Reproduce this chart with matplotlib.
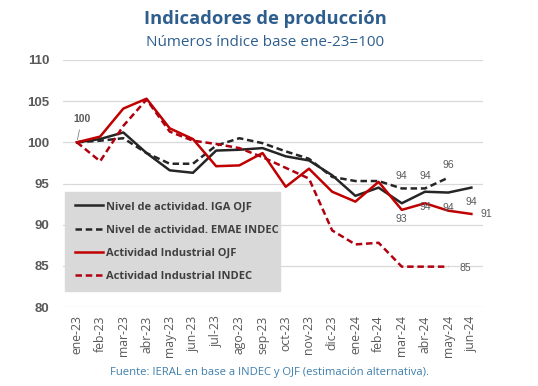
import matplotlib
matplotlib.use("Agg")
import matplotlib.pyplot as plt

months = ['ene-23', 'feb-23', 'mar-23', 'abr-23', 'may-23', 'jun-23', 'jul-23', 'ago-23',
          'sep-23', 'oct-23', 'nov-23', 'dic-23', 'ene-24', 'feb-24', 'mar-24', 'abr-24',
          'may-24', 'jun-24']
iga_ojf = [100, 100.4, 101.2, 98.7, 96.6, 96.3, 99.0, 99.1, 99.3, 98.3, 97.8, 96.0,
           93.5, 94.5, 92.6, 94.0, 93.9, 94.5]
emae_indec = [100, 100.2, 100.5, 98.7, 97.4, 97.4, 99.6, 100.5, 99.9, 98.9, 98.0, 95.8,
              95.3, 95.3, 94.4, 94.4, 95.7]
ind_ojf = [100, 100.7, 104.1, 105.3, 101.7, 100.4, 97.1, 97.2, 98.7, 94.6, 96.8, 94.0,
           92.8, 95.2, 91.8, 92.6, 91.7, 91.3]
ind_indec = [100, 97.7, 102.0, 105.2, 101.3, 100.2, 99.8, 99.3, 98.2, 96.9, 95.6, 89.3,
             87.6, 87.8, 84.9, 84.9, 84.9]
y_ticks = [80, 85, 90, 95, 100, 105, 110]
series_names = ['Nivel de actividad. IGA OJF', 'Nivel de actividad. EMAE INDEC',
                'Actividad Industrial OJF', 'Actividad Industrial INDEC']

W, H = 538, 386
fig = plt.figure(figsize=(W / 100, H / 100), dpi=100)
ax = fig.add_axes([63 / W, 1 - 307 / H, 420 / W, 247 / H])

x = list(range(len(months)))
dash = (0, (2.6, 1.5))
black = '#262626'
red = '#C00000'
ax.plot(x, iga_ojf, color=black, lw=1.8, label=series_names[0], zorder=3)
ax.plot(x[:len(emae_indec)], emae_indec, color=black, lw=1.8, ls=dash, label=series_names[1], zorder=3)
ax.plot(x, ind_ojf, color=red, lw=1.8, label=series_names[2], zorder=3)
ax.plot(x[:len(ind_indec)], ind_indec, color='#B00010', lw=1.8, ls=dash, label=series_names[3], zorder=3)

ax.set_xlim(-0.6, 17.5)
ax.set_ylim(80, 110)
ax.set_yticks(y_ticks)
ax.yaxis.grid(True, color='#D9D9D9', lw=0.9)
ax.set_axisbelow(True)
for s in ax.spines.values():
    s.set_visible(False)
ax.tick_params(axis='both', length=0)
ax.set_xticks(x)
ax.set_xticklabels(months, rotation=90, fontsize=8.8, color='#595959', family='Open Sans')
for lab in ax.get_yticklabels():
    lab.set_fontweight('bold')
    lab.set_fontsize(9.5)
    lab.set_color('#595959')
    lab.set_family('Liberation Sans')
ax.tick_params(axis='y', pad=10)
ax.tick_params(axis='x', pad=6)

lbl = dict(fontsize=7.5, color='#595959', family='Liberation Sans', ha='center', va='center')
ax.annotate('100', xy=(0, 100), xytext=(0.2, 102.8),
            arrowprops=dict(arrowstyle='-', color='#808080', lw=0.6), fontweight='bold', **lbl)
for i in (14, 15, 16):
    ax.annotate(f'{emae_indec[i]:.0f}', xy=(i, emae_indec[i]), xytext=(0, 9), textcoords='offset points', **lbl)
ax.annotate(f'{iga_ojf[14]:.0f}', xy=(14, iga_ojf[14]), xytext=(0, -11), textcoords='offset points', **lbl)
ax.annotate(f'{iga_ojf[15]:.0f}', xy=(15, iga_ojf[15]), xytext=(0, -11), textcoords='offset points', **lbl)
ax.annotate(f'{iga_ojf[16]:.0f}', xy=(16, iga_ojf[16]), xytext=(0, -11), textcoords='offset points', **lbl)
ax.annotate(f'{iga_ojf[17]:.0f}', xy=(17, iga_ojf[17]), xytext=(0, -10), textcoords='offset points', **lbl)
ax.annotate(f'{ind_ojf[17]:.0f}', xy=(17, ind_ojf[17]), xytext=(11, 0), textcoords='offset points', **lbl)
ax.annotate(f'{ind_indec[16]:.0f}', xy=(16, ind_indec[16]), xytext=(12, -1), textcoords='offset points', **lbl)

leg = ax.legend(loc='upper left', bbox_to_anchor=(0.005, 0.466, 0.512, 0.0), mode='expand',
                frameon=True, fancybox=False, facecolor='#D9D9D9', edgecolor='#D9D9D9', framealpha=1,
                prop=dict(family='Open Sans', weight='bold', size=8),
                handlelength=2.6, handletextpad=0.2, labelspacing=1.1, borderpad=0.85,
                borderaxespad=0)
for t in leg.get_texts():
    t.set_color('#404040')

fig.text(0.4925, 1 - 19 / H, 'Indicadores de producción', ha='center', va='center',
         fontsize=13.2, fontweight='bold', color='#2E5E8E', family='Open Sans')
fig.text(0.4925, 1 - 42 / H, 'Números índice base ene-23=100', ha='center', va='center',
         fontsize=11, color='#2F5F8F', family='Open Sans')
fig.text(0.5, 1 - 372 / H, 'Fuente: IERAL en base a INDEC y OJF (estimación alternativa).',
         ha='center', va='center', fontsize=8.1, color='#3E7FAA', family='Open Sans')

fig.savefig('out.png', dpi=100, facecolor='white')
